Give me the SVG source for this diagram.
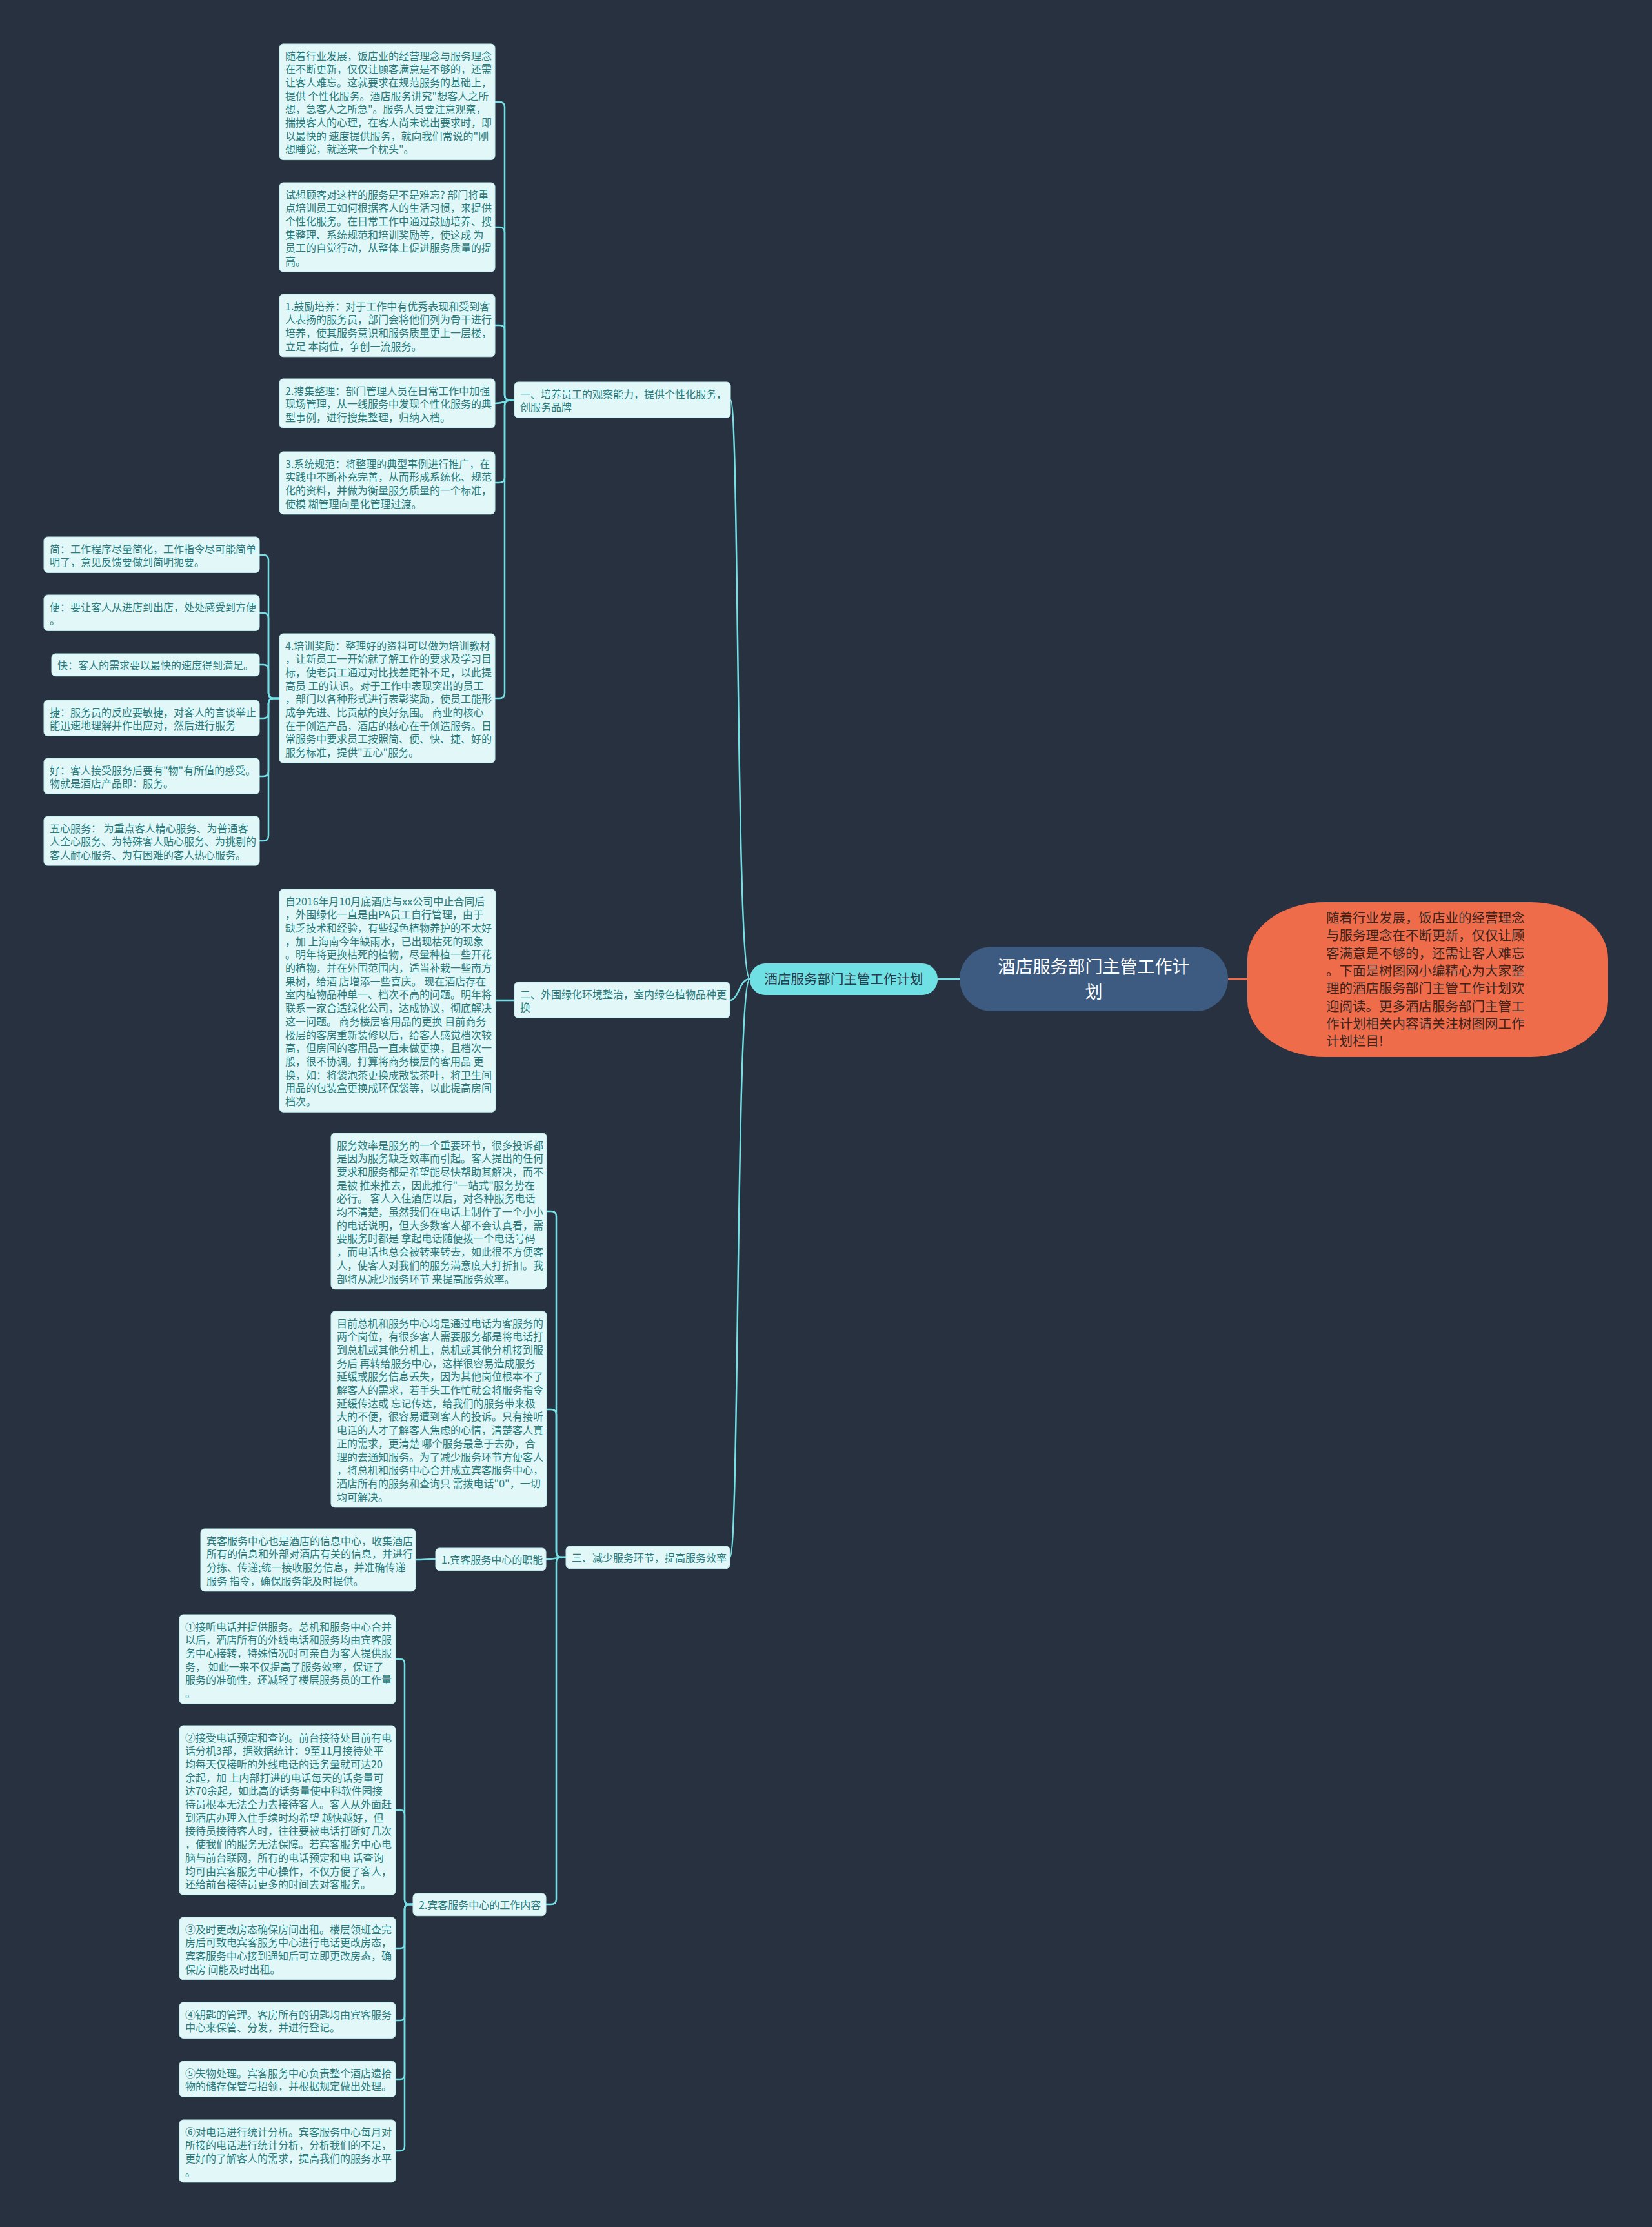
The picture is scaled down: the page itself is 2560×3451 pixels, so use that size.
<svg xmlns="http://www.w3.org/2000/svg" width="2560" height="3451" viewBox="0 0 2560 3451">
<style>
.bg{fill:#283140}
.box{fill:#E1F7F8;stroke:#BDEDEF;stroke-width:1}
.t{font-family:"Noto Sans CJK SC","Noto Sans",sans-serif;font-size:16px;fill:#277C7D}
.ln{fill:none;stroke:#74E0E6;stroke-width:2.5}
.lo{fill:none;stroke:#EF6C4B;stroke-width:2.5}
</style>
<rect class="bg" x="0" y="0" width="2560" height="3451"/>

<g id="connectors">
<path class="lo" d="M1903 1517 H1933"/>
<path class="ln" d="M1487 1517 H1453"/>
<path class="ln" d="M1162 1517 C1140 1517 1146 620 1132 620"/>
<path class="ln" d="M1162 1517 C1145 1517 1145 1550 1131 1550"/>
<path class="ln" d="M1162 1517 C1140 1517 1146 2413 1131 2413"/>
<path class="ln" d="M797 620 H790 Q782 620 782 612 V166 Q782 158 774 158 H767"/>
<path class="ln" d="M797 620 H790 Q782 620 782 612 V360 Q782 352 774 352 H767"/>
<path class="ln" d="M797 620 H790 Q782 620 782 612 V512 Q782 504 774 504 H767"/>
<path class="ln" d="M797 620 C782 620 782 625 767 625"/>
<path class="ln" d="M797 620 H790 Q782 620 782 628 V740 Q782 748 774 748 H767"/>
<path class="ln" d="M797 620 H790 Q782 620 782 628 V1074 Q782 1082 774 1082 H767"/>
<path class="ln" d="M433 1082 H424 Q416 1082 416 1074 V868 Q416 860 408 860 H402"/>
<path class="ln" d="M433 1082 H424 Q416 1082 416 1074 V958 Q416 950 408 950 H402"/>
<path class="ln" d="M433 1082 H424 Q416 1082 416 1074 V1038 Q416 1030 408 1030 H402"/>
<path class="ln" d="M433 1082 H424 Q416 1082 416 1090 V1105 Q416 1113 408 1113 H402"/>
<path class="ln" d="M433 1082 H424 Q416 1082 416 1090 V1195 Q416 1203 408 1203 H402"/>
<path class="ln" d="M433 1082 H424 Q416 1082 416 1090 V1295 Q416 1303 408 1303 H402"/>
<path class="ln" d="M797 1550 H768"/>
<path class="ln" d="M877 2413 H870 Q862 2413 862 2405 V1885 Q862 1877 854 1877 H847"/>
<path class="ln" d="M877 2413 H870 Q862 2413 862 2405 V2192 Q862 2184 854 2184 H847"/>
<path class="ln" d="M877 2413 C862 2413 862 2416 846 2416"/>
<path class="ln" d="M877 2413 H870 Q862 2413 862 2421 V2943 Q862 2951 854 2951 H846"/>
<path class="ln" d="M675 2416 C660 2416 660 2417 644 2417"/>
<path class="ln" d="M640 2951 H634 Q627 2951 627 2944 V2578 Q627 2571 620 2571 H613"/>
<path class="ln" d="M640 2951 H634 Q627 2951 627 2944 V2812 Q627 2805 620 2805 H613"/>
<path class="ln" d="M640 2951 H634 Q627 2951 627 2958 V3012 Q627 3019 620 3019 H613"/>
<path class="ln" d="M640 2951 H634 Q627 2951 627 2958 V3124 Q627 3131 620 3131 H613"/>
<path class="ln" d="M640 2951 H634 Q627 2951 627 2958 V3215 Q627 3222 620 3222 H613"/>
<path class="ln" d="M640 2951 H634 Q627 2951 627 2958 V3326 Q627 3333 620 3333 H613"/>
</g>

<g id="root">
<rect x="1487" y="1467" width="416" height="100" rx="50" fill="#3D5A80"/>
<text x="1695" y="1508" text-anchor="middle" style="font-family:'Noto Sans CJK SC','Noto Sans',sans-serif;font-size:27px;fill:#FFFFFF">酒店服务部门主管工作计<tspan x="1695" dy="39">划</tspan></text>
</g>

<g id="intro">
<rect x="1933" y="1398" width="559" height="240" rx="120" ry="88" fill="#EF6C4B"/>
<text x="2055" y="1430" style="font-family:'Noto Sans CJK SC','Noto Sans',sans-serif;font-size:20.5px;fill:#3A2620"><tspan x="2055">随着行业发展，饭店业的经营理念</tspan><tspan x="2055" dy="27.3">与服务理念在不断更新，仅仅让顾</tspan><tspan x="2055" dy="27.3">客满意是不够的，还需让客人难忘</tspan><tspan x="2055" dy="27.3">。下面是树图网小编精心为大家整</tspan><tspan x="2055" dy="27.3">理的酒店服务部门主管工作计划欢</tspan><tspan x="2055" dy="27.3">迎阅读。更多酒店服务部门主管工</tspan><tspan x="2055" dy="27.3">作计划相关内容请关注树图网工作</tspan><tspan x="2055" dy="27.3">计划栏目!</tspan></text>
</g>

<g id="main">
<rect x="1162" y="1493" width="291" height="49" rx="24" fill="#6FE0E4"/>
<text x="1307.5" y="1525" text-anchor="middle" style="font-family:'Noto Sans CJK SC','Noto Sans',sans-serif;font-size:20.5px;fill:#2A3A4A">酒店服务部门主管工作计划</text>
</g>

<g id="b1">
<rect class="box" x="797" y="592" width="335" height="55.4" rx="6"/>
<text class="t" y="616.5"><tspan x="806">一、培养员工的观察能力，提供个性化服务，</tspan><tspan x="806" dy="20.7">创服务品牌</tspan></text>
</g>

<g id="b1a">
<rect class="box" x="433" y="68" width="334" height="179.6" rx="6"/>
<text class="t" y="92.5"><tspan x="442">随着行业发展，饭店业的经营理念与服务理念</tspan><tspan x="442" dy="20.7">在不断更新，仅仅让顾客满意是不够的，还需</tspan><tspan x="442" dy="20.7">让客人难忘。这就要求在规范服务的基础上，</tspan><tspan x="442" dy="20.7">提供 个性化服务。酒店服务讲究"想客人之所</tspan><tspan x="442" dy="20.7">想，急客人之所急"。服务人员要注意观察，</tspan><tspan x="442" dy="20.7">揣摸客人的心理，在客人尚未说出要求时，即</tspan><tspan x="442" dy="20.7">以最快的 速度提供服务，就向我们常说的"刚</tspan><tspan x="442" dy="20.7">想睡觉，就送来一个枕头"。</tspan></text>
</g>

<g id="b1b">
<rect class="box" x="433" y="283" width="334" height="138.2" rx="6"/>
<text class="t" y="307.5"><tspan x="442">试想顾客对这样的服务是不是难忘? 部门将重</tspan><tspan x="442" dy="20.7">点培训员工如何根据客人的生活习惯，来提供</tspan><tspan x="442" dy="20.7">个性化服务。在日常工作中通过鼓励培养、搜</tspan><tspan x="442" dy="20.7">集整理、系统规范和培训奖励等，使这成 为</tspan><tspan x="442" dy="20.7">员工的自觉行动，从整体上促进服务质量的提</tspan><tspan x="442" dy="20.7">高。</tspan></text>
</g>

<g id="b1c">
<rect class="box" x="433" y="456" width="334" height="96.8" rx="6"/>
<text class="t" y="480.5"><tspan x="442">1.鼓励培养：对于工作中有优秀表现和受到客</tspan><tspan x="442" dy="20.7">人表扬的服务员，部门会将他们列为骨干进行</tspan><tspan x="442" dy="20.7">培养，使其服务意识和服务质量更上一层楼，</tspan><tspan x="442" dy="20.7">立足 本岗位，争创一流服务。</tspan></text>
</g>

<g id="b1d">
<rect class="box" x="433" y="587" width="334" height="76.1" rx="6"/>
<text class="t" y="611.5"><tspan x="442">2.搜集整理：部门管理人员在日常工作中加强</tspan><tspan x="442" dy="20.7">现场管理，从一线服务中发现个性化服务的典</tspan><tspan x="442" dy="20.7">型事例，进行搜集整理，归纳入档。</tspan></text>
</g>

<g id="b1e">
<rect class="box" x="433" y="700" width="334" height="96.8" rx="6"/>
<text class="t" y="724.5"><tspan x="442">3.系统规范：将整理的典型事例进行推广，在</tspan><tspan x="442" dy="20.7">实践中不断补充完善，从而形成系统化、规范</tspan><tspan x="442" dy="20.7">化的资料，并做为衡量服务质量的一个标准，</tspan><tspan x="442" dy="20.7">使模 糊管理向量化管理过渡。</tspan></text>
</g>

<g id="b1f">
<rect class="box" x="433" y="982" width="334" height="200.3" rx="6"/>
<text class="t" y="1006.5"><tspan x="442">4.培训奖励：整理好的资料可以做为培训教材</tspan><tspan x="442" dy="20.7">，让新员工一开始就了解工作的要求及学习目</tspan><tspan x="442" dy="20.7">标，使老员工通过对比找差距补不足，以此提</tspan><tspan x="442" dy="20.7">高员 工的认识。对于工作中表现突出的员工</tspan><tspan x="442" dy="20.7">，部门以各种形式进行表彰奖励，使员工能形</tspan><tspan x="442" dy="20.7">成争先进、比贡献的良好氛围。 商业的核心</tspan><tspan x="442" dy="20.7">在于创造产品，酒店的核心在于创造服务。日</tspan><tspan x="442" dy="20.7">常服务中要求员工按照简、便、快、捷、好的</tspan><tspan x="442" dy="20.7">服务标准，提供"五心"服务。</tspan></text>
</g>

<g id="jian">
<rect class="box" x="68" y="832" width="334" height="55.4" rx="6"/>
<text class="t" y="856.5"><tspan x="77">简：工作程序尽量简化，工作指令尽可能简单</tspan><tspan x="77" dy="20.7">明了，意见反馈要做到简明扼要。</tspan></text>
</g>
<g id="bian">
<rect class="box" x="68" y="922" width="334" height="55.4" rx="6"/>
<text class="t" y="946.5"><tspan x="77">便：要让客人从进店到出店，处处感受到方便</tspan><tspan x="77" dy="20.7">。</tspan></text>
</g>
<g id="kuai">
<rect class="box" x="80" y="1013" width="322" height="34.7" rx="6"/>
<text class="t" x="89" y="1036.5">快：客人的需求要以最快的速度得到满足。</text>
</g>
<g id="jie">
<rect class="box" x="68" y="1085" width="334" height="55.4" rx="6"/>
<text class="t" y="1109.5"><tspan x="77">捷：服务员的反应要敏捷，对客人的言谈举止</tspan><tspan x="77" dy="20.7">能迅速地理解并作出应对，然后进行服务</tspan></text>
</g>
<g id="hao">
<rect class="box" x="68" y="1175" width="334" height="55.4" rx="6"/>
<text class="t" y="1199.5"><tspan x="77">好：客人接受服务后要有"物"有所值的感受。</tspan><tspan x="77" dy="20.7">物就是酒店产品即：服务。</tspan></text>
</g>
<g id="wuxin">
<rect class="box" x="68" y="1265" width="334" height="76.1" rx="6"/>
<text class="t" y="1289.5"><tspan x="77">五心服务： 为重点客人精心服务、为普通客</tspan><tspan x="77" dy="20.7">人全心服务、为特殊客人贴心服务、为挑剔的</tspan><tspan x="77" dy="20.7">客人耐心服务、为有困难的客人热心服务。</tspan></text>
</g>

<g id="b2">
<rect class="box" x="797" y="1522" width="334" height="55.4" rx="6"/>
<text class="t" y="1546.5"><tspan x="806">二、外围绿化环境整治，室内绿色植物品种更</tspan><tspan x="806" dy="20.7">换</tspan></text>
</g>
<g id="b2a">
<rect class="box" x="433" y="1378" width="335" height="345.2" rx="6"/>
<text class="t" y="1402.5"><tspan x="442">自2016年月10月底酒店与xx公司中止合同后</tspan><tspan x="442" dy="20.7">，外围绿化一直是由PA员工自行管理，由于</tspan><tspan x="442" dy="20.7">缺乏技术和经验，有些绿色植物养护的不太好</tspan><tspan x="442" dy="20.7">，加 上海南今年缺雨水，已出现枯死的现象</tspan><tspan x="442" dy="20.7">。明年将更换枯死的植物，尽量种植一些开花</tspan><tspan x="442" dy="20.7">的植物，并在外围范围内，适当补栽一些南方</tspan><tspan x="442" dy="20.7">果树，给酒 店增添一些喜庆。 现在酒店存在</tspan><tspan x="442" dy="20.7">室内植物品种单一、档次不高的问题。明年将</tspan><tspan x="442" dy="20.7">联系一家合适绿化公司，达成协议，彻底解决</tspan><tspan x="442" dy="20.7">这一问题。 商务楼层客用品的更换 目前商务</tspan><tspan x="442" dy="20.7">楼层的客房重新装修以后，给客人感觉档次较</tspan><tspan x="442" dy="20.7">高，但房间的客用品一直未做更换，且档次一</tspan><tspan x="442" dy="20.7">般，很不协调。打算将商务楼层的客用品 更</tspan><tspan x="442" dy="20.7">换，如：将袋泡茶更换成散装茶叶，将卫生间</tspan><tspan x="442" dy="20.7">用品的包装盒更换成环保袋等，以此提高房间</tspan><tspan x="442" dy="20.7">档次。</tspan></text>
</g>

<g id="b3">
<rect class="box" x="877" y="2396" width="254" height="34.7" rx="6"/>
<text class="t" x="886" y="2419.5">三、减少服务环节，提高服务效率</text>
</g>
<g id="b3a">
<rect class="box" x="513" y="1756" width="334" height="241.7" rx="6"/>
<text class="t" y="1780.5"><tspan x="522">服务效率是服务的一个重要环节，很多投诉都</tspan><tspan x="522" dy="20.7">是因为服务缺乏效率而引起。客人提出的任何</tspan><tspan x="522" dy="20.7">要求和服务都是希望能尽快帮助其解决，而不</tspan><tspan x="522" dy="20.7">是被 推来推去，因此推行"一站式"服务势在</tspan><tspan x="522" dy="20.7">必行。 客人入住酒店以后，对各种服务电话</tspan><tspan x="522" dy="20.7">均不清楚，虽然我们在电话上制作了一个小小</tspan><tspan x="522" dy="20.7">的电话说明，但大多数客人都不会认真看，需</tspan><tspan x="522" dy="20.7">要服务时都是 拿起电话随便拨一个电话号码</tspan><tspan x="522" dy="20.7">，而电话也总会被转来转去，如此很不方便客</tspan><tspan x="522" dy="20.7">人，使客人对我们的服务满意度大打折扣。我</tspan><tspan x="522" dy="20.7">部将从减少服务环节 来提高服务效率。</tspan></text>
</g>
<g id="b3b">
<rect class="box" x="513" y="2032" width="334" height="303.8" rx="6"/>
<text class="t" y="2056.5"><tspan x="522">目前总机和服务中心均是通过电话为客服务的</tspan><tspan x="522" dy="20.7">两个岗位，有很多客人需要服务都是将电话打</tspan><tspan x="522" dy="20.7">到总机或其他分机上，总机或其他分机接到服</tspan><tspan x="522" dy="20.7">务后 再转给服务中心，这样很容易造成服务</tspan><tspan x="522" dy="20.7">延缓或服务信息丢失，因为其他岗位根本不了</tspan><tspan x="522" dy="20.7">解客人的需求，若手头工作忙就会将服务指令</tspan><tspan x="522" dy="20.7">延缓传达或 忘记传达，给我们的服务带来极</tspan><tspan x="522" dy="20.7">大的不便，很容易遭到客人的投诉。只有接听</tspan><tspan x="522" dy="20.7">电话的人才了解客人焦虑的心情，清楚客人真</tspan><tspan x="522" dy="20.7">正的需求，更清楚 哪个服务最急于去办，合</tspan><tspan x="522" dy="20.7">理的去通知服务。为了减少服务环节方便客人</tspan><tspan x="522" dy="20.7">，将总机和服务中心合并成立宾客服务中心，</tspan><tspan x="522" dy="20.7">酒店所有的服务和查询只 需拨电话"0"，一切</tspan><tspan x="522" dy="20.7">均可解决。</tspan></text>
</g>
<g id="b3c">
<rect class="box" x="675" y="2399" width="171" height="34.7" rx="6"/>
<text class="t" x="684" y="2422.5">1.宾客服务中心的职能</text>
</g>
<g id="b3c1">
<rect class="box" x="311" y="2369" width="333" height="96.8" rx="6"/>
<text class="t" y="2393.5"><tspan x="320">宾客服务中心也是酒店的信息中心，收集酒店</tspan><tspan x="320" dy="20.7">所有的信息和外部对酒店有关的信息，并进行</tspan><tspan x="320" dy="20.7">分拣、传递;统一接收服务信息，并准确传递</tspan><tspan x="320" dy="20.7">服务 指令，确保服务能及时提供。</tspan></text>
</g>
<g id="b3d">
<rect class="box" x="640" y="2934" width="206" height="34.7" rx="6"/>
<text class="t" x="649" y="2957.5">2.宾客服务中心的工作内容</text>
</g>
<g id="w1">
<rect class="box" x="278" y="2502" width="335" height="138.2" rx="6"/>
<text class="t" y="2526.5"><tspan x="287">①接听电话并提供服务。总机和服务中心合并</tspan><tspan x="287" dy="20.7">以后，酒店所有的外线电话和服务均由宾客服</tspan><tspan x="287" dy="20.7">务中心接转，特殊情况时可亲自为客人提供服</tspan><tspan x="287" dy="20.7">务， 如此一来不仅提高了服务效率，保证了</tspan><tspan x="287" dy="20.7">服务的准确性，还减轻了楼层服务员的工作量</tspan><tspan x="287" dy="20.7">。</tspan></text>
</g>
<g id="w2">
<rect class="box" x="278" y="2674" width="335" height="262.4" rx="6"/>
<text class="t" y="2698.5"><tspan x="287">②接受电话预定和查询。前台接待处目前有电</tspan><tspan x="287" dy="20.7">话分机3部，据数据统计：9至11月接待处平</tspan><tspan x="287" dy="20.7">均每天仅接听的外线电话的话务量就可达20</tspan><tspan x="287" dy="20.7">余起，加 上内部打进的电话每天的话务量可</tspan><tspan x="287" dy="20.7">达70余起，如此高的话务量使中科软件园接</tspan><tspan x="287" dy="20.7">待员根本无法全力去接待客人。客人从外面赶</tspan><tspan x="287" dy="20.7">到酒店办理入住手续时均希望 越快越好，但</tspan><tspan x="287" dy="20.7">接待员接待客人时，往往要被电话打断好几次</tspan><tspan x="287" dy="20.7">，使我们的服务无法保障。若宾客服务中心电</tspan><tspan x="287" dy="20.7">脑与前台联网，所有的电话预定和电 话查询</tspan><tspan x="287" dy="20.7">均可由宾客服务中心操作，不仅方便了客人，</tspan><tspan x="287" dy="20.7">还给前台接待员更多的时间去对客服务。</tspan></text>
</g>
<g id="w3">
<rect class="box" x="278" y="2971" width="335" height="96.8" rx="6"/>
<text class="t" y="2995.5"><tspan x="287">③及时更改房态确保房间出租。楼层领班查完</tspan><tspan x="287" dy="20.7">房后可致电宾客服务中心进行电话更改房态，</tspan><tspan x="287" dy="20.7">宾客服务中心接到通知后可立即更改房态，确</tspan><tspan x="287" dy="20.7">保房 间能及时出租。</tspan></text>
</g>
<g id="w4">
<rect class="box" x="278" y="3103" width="335" height="55.4" rx="6"/>
<text class="t" y="3127.5"><tspan x="287">④钥匙的管理。客房所有的钥匙均由宾客服务</tspan><tspan x="287" dy="20.7">中心来保管、分发，并进行登记。</tspan></text>
</g>
<g id="w5">
<rect class="box" x="278" y="3194" width="335" height="55.4" rx="6"/>
<text class="t" y="3218.5"><tspan x="287">⑤失物处理。宾客服务中心负责整个酒店遗拾</tspan><tspan x="287" dy="20.7">物的储存保管与招领，并根据规定做出处理。</tspan></text>
</g>
<g id="w6">
<rect class="box" x="278" y="3285" width="335" height="96.8" rx="6"/>
<text class="t" y="3309.5"><tspan x="287">⑥对电话进行统计分析。宾客服务中心每月对</tspan><tspan x="287" dy="20.7">所接的电话进行统计分析，分析我们的不足，</tspan><tspan x="287" dy="20.7">更好的了解客人的需求，提高我们的服务水平</tspan><tspan x="287" dy="20.7">。</tspan></text>
</g>
</svg>
